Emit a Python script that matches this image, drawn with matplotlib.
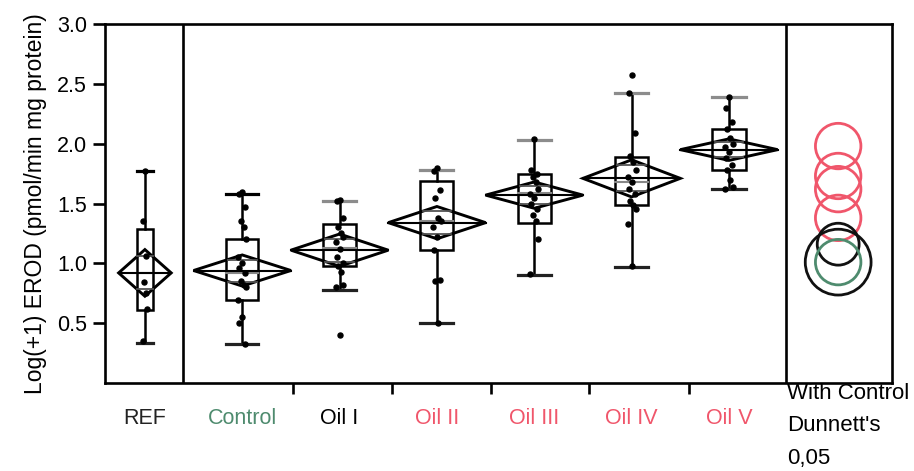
import numpy as np
import matplotlib.pyplot as plt
from matplotlib.patches import Polygon, Rectangle
from matplotlib.transforms import blended_transform_factory

plt.rcParams['font.family'] = ['Liberation Sans', 'DejaVu Sans']

# groups and their summary values
groups = ['REF', 'Control', 'Oil I', 'Oil II', 'Oil III', 'Oil IV', 'Oil V']
means = [0.92, 0.94, 1.11, 1.34, 1.57, 1.71, 1.95]
ci_half = [0.195, 0.13, 0.135, 0.135, 0.11, 0.155, 0.09]
q1 = [0.61, 0.69, 0.98, 1.11, 1.34, 1.49, 1.78]
medians = [0.92, 0.92, 1.13, 1.35, 1.59, 1.68, 1.95]
q3 = [1.29, 1.20, 1.33, 1.69, 1.75, 1.89, 2.12]
whisk_lo = [0.335, 0.33, 0.78, 0.50, 0.90, 0.97, 1.62]
whisk_hi = [1.775, 1.58, 1.52, 1.78, 2.03, 2.42, 2.39]

# raw observations
pts_ref = [1.77, 1.35, 1.06, 0.84, 0.75, 0.62, 0.35]
pts_control = [1.60, 1.58, 1.47, 1.35, 1.30, 1.20, 1.05, 1.00, 0.96, 0.92,
               0.85, 0.82, 0.80, 0.69, 0.55, 0.50, 0.33]
pts_oil1 = [1.53, 1.52, 1.38, 1.30, 1.25, 1.22, 1.18, 1.12, 1.05, 1.00,
            0.98, 0.93, 0.82, 0.80, 0.40]
pts_oil2 = [1.80, 1.77, 1.61, 1.55, 1.38, 1.35, 1.30, 1.22, 1.11, 0.86,
            0.85, 0.50]
pts_oil3 = [2.04, 1.78, 1.75, 1.72, 1.68, 1.62, 1.58, 1.55, 1.50, 1.45,
            1.40, 1.35, 1.20, 0.91]
pts_oil4 = [2.57, 2.42, 2.09, 1.90, 1.85, 1.78, 1.72, 1.68, 1.62, 1.58,
            1.52, 1.49, 1.45, 1.33, 0.98]
pts_oil5 = [2.39, 2.30, 2.18, 2.12, 2.05, 2.00, 1.97, 1.93, 1.88, 1.82,
            1.78, 1.70, 1.64, 1.62]
points = [pts_ref, pts_control, pts_oil1, pts_oil2, pts_oil3, pts_oil4, pts_oil5]

# Dunnett comparison circles (centre, radius in y units)
circle_center = [1.01, 1.01, 1.16, 1.38, 1.62, 1.73, 1.98]
circle_radius = [0.275, 0.19, 0.175, 0.19, 0.19, 0.19, 0.19]

RED = '#f0566b'
GREEN = '#4e8b6e'
label_colors = ['#222222', GREEN, 'black', RED, RED, RED, RED]
circle_colors = ['#111111', GREEN, '#111111', RED, RED, RED, RED]

xpos = np.arange(len(groups))
diamond_w = [0.54, 1.0, 1.0, 1.0, 1.0, 1.0, 1.0]
box_w = [0.17, 0.33, 0.34, 0.34, 0.34, 0.34, 0.34]

fig = plt.figure(figsize=(9.14, 4.71), dpi=100)
ax = fig.add_axes([105 / 914, 88 / 471, 787 / 914, 359 / 471])
ax.set_xlim(-0.41, 7.675)
ax.set_ylim(0, 3.0)

lw = 1.8
for i, x in enumerate(xpos):
    # box + whiskers
    bw = box_w[i]
    ax.add_patch(Rectangle((x - bw / 2, q1[i]), bw, q3[i] - q1[i],
                           fill=False, ec='black', lw=lw, zorder=3))
    ax.plot([x - bw / 2, x + bw / 2], [medians[i]] * 2, color='#888888', lw=1.5, zorder=3)
    ax.plot([x, x], [q3[i], whisk_hi[i]], color='black', lw=lw, zorder=3)
    ax.plot([x, x], [whisk_lo[i], q1[i]], color='black', lw=lw, zorder=3)
    cap_top = 'black' if i < 2 else '#8c8c8c'
    ax.plot([x - bw / 2, x + bw / 2], [whisk_hi[i]] * 2, color=cap_top, lw=lw + 0.5, zorder=3)
    ax.plot([x - bw / 2, x + bw / 2], [whisk_lo[i]] * 2, color='#222222', lw=lw + 0.5, zorder=3)

    # means diamond
    w = diamond_w[i] / 2
    m, h = means[i], ci_half[i]
    ax.add_patch(Polygon([[x - w, m], [x, m + h], [x + w, m], [x, m - h]],
                         closed=True, fill=False, ec='black', lw=2.1, zorder=4))
    ax.plot([x - w, x + w], [m, m], color='black', lw=1.5, zorder=4)
    ov = h / np.sqrt(2)
    ow = w * (1 - 1 / np.sqrt(2))
    for s in (1, -1):
        ax.plot([x - ow, x + ow], [m + s * ov] * 2, color='#555555', lw=1.3, zorder=4)

    # observations
    offs = np.array([0, -0.03, 0.03, -0.015, 0.015, 0.04, -0.04])
    vals = points[i]
    xs = x + offs[np.arange(len(vals)) % len(offs)] * (diamond_w[i])
    ax.plot(xs, vals, 'o', color='black', ms=3.6, zorder=5)

# separators between panels
ax.axvline(0.39, color='black', lw=1.9)
ax.axvline(6.588, color='black', lw=1.9)

# comparison circles, converted from y units to points
px_per_unit = 359 / 3.0
circle_x = 7.122
order = [6, 5, 4, 3, 2, 1, 0]
for i in order:
    d_pt = 2 * circle_radius[i] * px_per_unit * 72 / 100
    ax.scatter([circle_x], [circle_center[i]], s=d_pt ** 2, marker='o',
               facecolors='none', edgecolors=circle_colors[i], linewidths=2.0, zorder=6)

# axes styling
for sp in ax.spines.values():
    sp.set_linewidth(1.9)
ax.set_yticks([0.5, 1.0, 1.5, 2.0, 2.5, 3.0])
ax.set_yticklabels(['0.5', '1.0', '1.5', '2.0', '2.5', '3.0'], fontsize=15.5)
ax.tick_params(axis='y', length=9, width=1.9, pad=4)
ax.set_xticks([1.52, 2.54, 3.56, 4.56, 5.59])
ax.set_xticklabels([])
ax.tick_params(axis='x', length=8, width=1.9)
ax.set_ylabel('Log(+1) EROD (pmol/min mg protein)', fontsize=16.5, labelpad=7)

trans = blended_transform_factory(ax.transData, ax.transAxes)
for i, x in enumerate(xpos):
    ax.text(x, -0.098, groups[i], transform=trans, ha='center', va='center',
            fontsize=15.5, color=label_colors[i])

ax.text(6.60, -0.03, 'With Control', transform=trans, ha='left', va='center', fontsize=16)
ax.text(6.60, -0.118, "Dunnett's", transform=trans, ha='left', va='center', fontsize=16)
ax.text(6.60, -0.21, '0,05', transform=trans, ha='left', va='center', fontsize=16)

fig.savefig('out.png', dpi=100)
